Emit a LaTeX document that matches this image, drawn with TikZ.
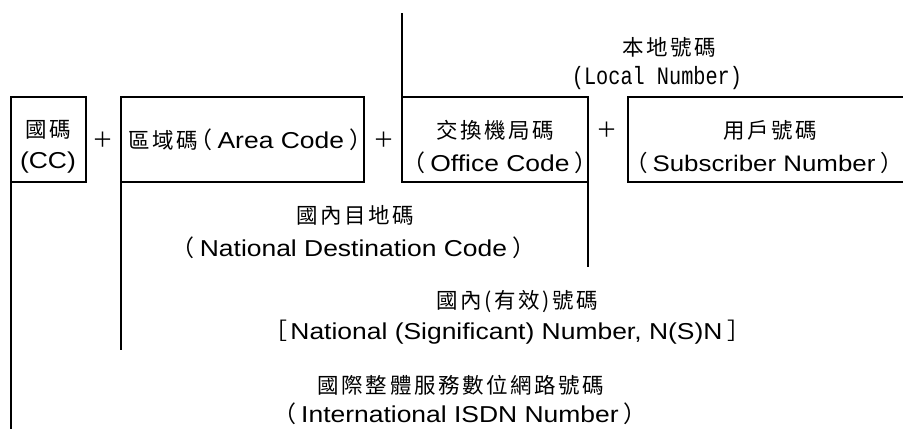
\documentclass[tikz,border=0pt]{standalone}
\usepackage{fontspec}
\setmainfont{Liberation Sans}[FakeStretch=1.15]
\newfontfamily\cjk{Noto Sans CJK TC}[LetterSpace=12]
\newfontfamily\cjkplain{Noto Sans CJK TC}
\newfontfamily\mono{Liberation Mono}[FakeStretch=0.81]
\newcommand{\lp}{{\cjkplain\makebox[0.5em][r]{（}}\hspace{5pt}}
\newcommand{\rp}{\hspace{5pt}{\cjkplain\makebox[0.5em][l]{）}}}
\newcommand{\lb}{{\cjkplain\makebox[0.5em][r]{［}}\hspace{3pt}}
\newcommand{\rb}{\hspace{5pt}{\cjkplain\makebox[0.5em][l]{］}}}
\begin{document}
\begin{tikzpicture}[x=1pt,y=-1pt,
  boxn/.style={draw, line width=2pt, inner sep=0pt, outer sep=0pt},
  openbox/.style={inner sep=0pt, outer sep=0pt},
  wire/.style={line width=2pt},
  lbl/.style={inner sep=0pt, anchor=center, font=\fontsize{23}{27}\selectfont},
  zh/.style={inner sep=0pt, anchor=center, font=\fontsize{21.5}{25}\cjk},
  plus/.style={inner sep=0pt, anchor=center, font=\fontsize{21}{25}\cjkplain},
  mn/.style={inner sep=0pt, anchor=center, font=\fontsize{25}{28}\mono}]
\useasboundingbox (0,0) rectangle (903,429);
% boxes
\node[boxn, minimum width=75pt, minimum height=85pt] (cc) at (48.5,139.5) {};
\node[boxn, minimum width=243pt, minimum height=85pt] (area) at (242.5,139.5) {};
\node[boxn, minimum width=186pt, minimum height=85pt] (office) at (495,139.5) {};
\node[openbox, minimum width=275pt, minimum height=85pt] (sub) at (765.5,139.5) {};
\draw[wire] (sub.north east) -- (sub.north west) -- (sub.south west) -- (sub.south east);
% connector ends
\coordinate (ccend) at (11,429);
\coordinate (areaend) at (121,350);
\coordinate (officetop) at (402,13);
\coordinate (officeend) at (588,267);
\draw[wire] (cc.south west) -- (cc.south west |- ccend);
\draw[wire] (area.south west) -- (area.south west |- areaend);
\draw[wire] (office.north west) -- (office.north west |- officetop);
\draw[wire] (office.south east) -- (office.south east |- officeend);
% box texts
\node[zh] (ccz) at (48,130) {國碼};
\node[lbl] (cce) at (48,163) {(CC)};
\node[lbl] (areat) at (244.5,140) {{\fontsize{21.5}{25}\cjk 區域碼}\hspace{3pt}\lp Area Code\rp};
\node[zh] (offz) at (495,130) {交換機局碼};
\node[lbl] (offe) at (500,163) {\lp Office Code\rp};
\node[zh] (subz) at (770,130) {用戶號碼};
\node[lbl, font=\fontsize{22.5}{27}\selectfont] (sube) at (764,163) {\lp Subscriber Number\rp};
% plus signs
\node[plus] (p1) at (103,140) {＋};
\node[plus] (p2) at (384,140) {＋};
\node[plus] (p3) at (607,130) {＋};
% group labels
\node[zh] (locz) at (669,47) {本地號碼};
\node[mn] (loce) at (657,78) {(Local Number)};
\node[zh] (ndcz) at (355,215) {國內目地碼};
\node[lbl] (ndce) at (353.5,248) {\lp National Destination Code\rp};
\node[zh] (nsnz) at (517,302) {國內(有效)號碼};
\node[lbl] (nsne) at (507.5,332) {\lb National (Significant) Number, N(S)N\rb};
\node[zh] (isdz) at (461,385) {國際整體服務數位網路號碼};
\node[lbl] (isde) at (460,414) {\lp International ISDN Number\rp};
\end{tikzpicture}
\end{document}
